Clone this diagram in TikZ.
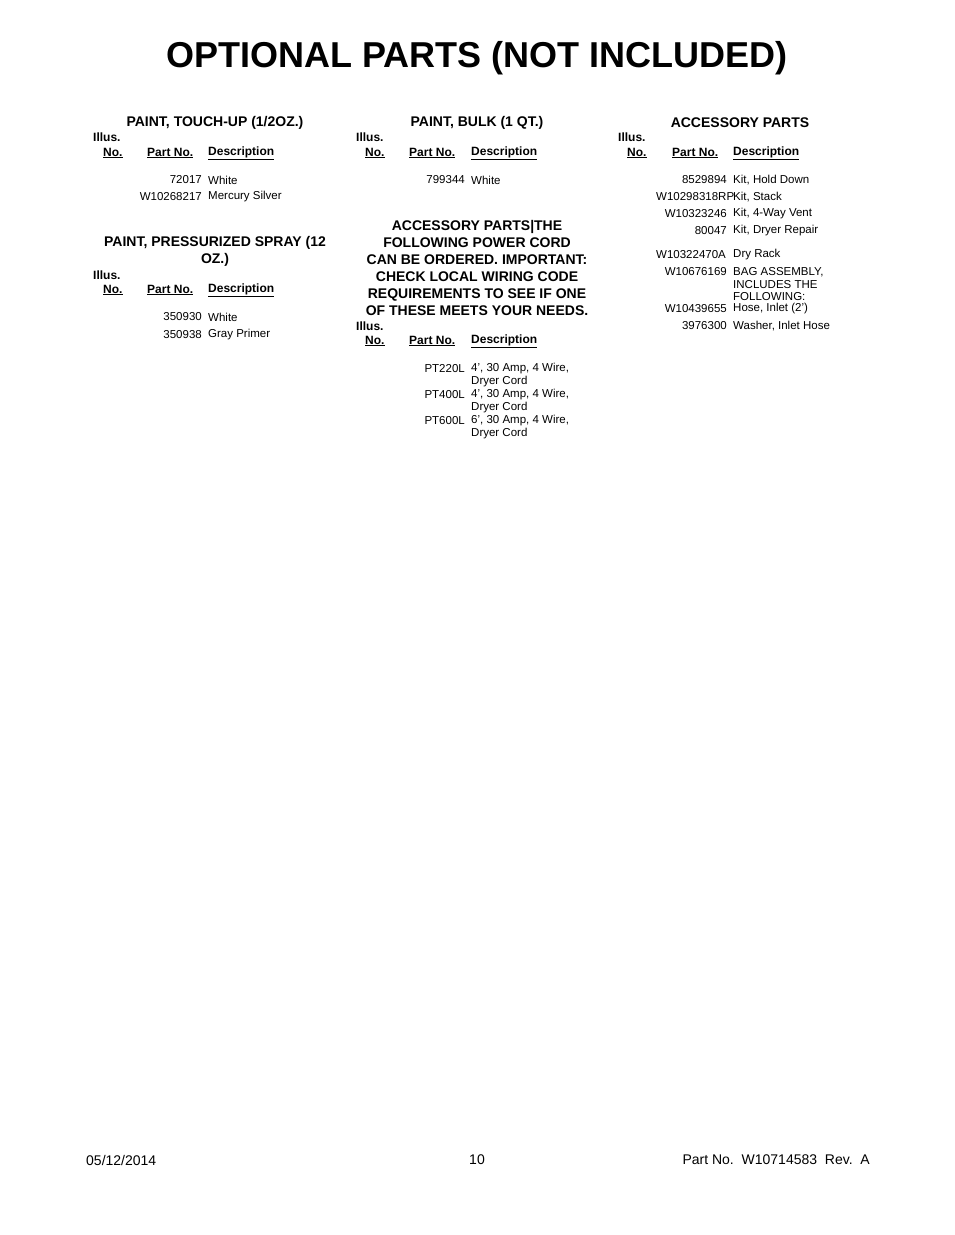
\documentclass[tikz,border=0pt]{standalone}
\usepackage{fontspec}
\setmainfont{Liberation Sans}
\begin{document}
\begin{tikzpicture}[x=1pt,y=-1pt,
  t/.style={inner sep=0pt,font=\fontsize{11.5}{13}\selectfont},
  L/.style={t,anchor=west},R/.style={t,anchor=east},
  h/.style={inner sep=0pt,font=\fontsize{14}{17}\bfseries\selectfont,align=center},
  hb/.style={inner sep=0pt,font=\fontsize{12}{13}\bfseries\selectfont,anchor=west}]
\useasboundingbox (0,0) rectangle (954,1235);
\node[inner sep=0pt,font=\fontsize{36}{40}\bfseries\selectfont] (title) at (477,58) {OPTIONAL PARTS (NOT INCLUDED)};
% column 1
\node[h] (h1) at (215,123) {PAINT, TOUCH-UP (1/2OZ.)};
\node[hb] (i1) at (93,137) {Illus.};
\node[hb] (n1) at (103,153) {\underline{No.}};
\node[hb] (p1) at (147,153) {\underline{Part No.}};
\node[hb] (d1) at (208,153) {\underline{Description}};
\node[R] (a1) at (202,180) {72017}; \node[L] (a1d) at (208,180) {White};
\node[R] (a2) at (202,197) {W10268217}; \node[L] (a2d) at (208,197) {Mercury Silver};
\node[h] (h2) at (215,251) {PAINT, PRESSURIZED SPRAY (12\\OZ.)};
\node[hb] (i2) at (93,275) {Illus.};
\node[hb] (n2) at (103,290) {\underline{No.}};
\node[hb] (p2) at (147,290) {\underline{Part No.}};
\node[hb] (d2) at (208,290) {\underline{Description}};
\node[R] (b1) at (202,317) {350930}; \node[L] (b1d) at (208,317) {White};
\node[R] (b2) at (202,335) {350938}; \node[L] (b2d) at (208,335) {Gray Primer};
% column 2
\node[h] (h3) at (477,123) {PAINT, BULK (1 QT.)};
\node[hb] (i3) at (356,137) {Illus.};
\node[hb] (n3) at (365,153) {\underline{No.}};
\node[hb] (p3) at (409,153) {\underline{Part No.}};
\node[hb] (d3) at (471,153) {\underline{Description}};
\node[R] (c1) at (465,180) {799344}; \node[L] (c1d) at (471,180) {White};
\node[h,font=\fontsize{14}{17}\bfseries\selectfont] (h4) at (477,267.5) {ACCESSORY PARTS|THE\\FOLLOWING POWER CORD\\CAN BE ORDERED. IMPORTANT:\\CHECK LOCAL WIRING CODE\\REQUIREMENTS TO SEE IF ONE\\OF THESE MEETS YOUR NEEDS.};
\node[hb] (i4) at (356,326) {Illus.};
\node[hb] (n4) at (365,341) {\underline{No.}};
\node[hb] (p4) at (409,341) {\underline{Part No.}};
\node[hb] (d4) at (471,341) {\underline{Description}};
\node[R] (e1) at (465,369) {PT220L}; \node[L] (e1d) at (471,369) {4', 30 Amp, 4 Wire,}; \node[L] (e1e) at (471,382) {Dryer Cord};
\node[R] (e2) at (465,395) {PT400L}; \node[L] (e2d) at (471,395) {4', 30 Amp, 4 Wire,}; \node[L] (e2e) at (471,408) {Dryer Cord};
\node[R] (e3) at (465,421) {PT600L}; \node[L] (e3d) at (471,421) {6', 30 Amp, 4 Wire,}; \node[L] (e3e) at (471,434) {Dryer Cord};
% column 3
\node[h] (h5) at (740,123) {ACCESSORY PARTS};
\node[hb] (i5) at (618,137) {Illus.};
\node[hb] (n5) at (627,153) {\underline{No.}};
\node[hb] (p5) at (672,153) {\underline{Part No.}};
\node[hb] (d5) at (733,153) {\underline{Description}};
\node[R] (f1) at (727,180) {8529894}; \node[L] (f1d) at (733,180) {Kit, Hold Down};
\node[L] (f2) at (656,197) {W10298318RP}; \node[L] (f2d) at (733,197) {Kit, Stack};
\node[R] (f3) at (727,214) {W10323246}; \node[L] (f3d) at (733,214) {Kit, 4-Way Vent};
\node[R] (f4) at (727,231) {80047}; \node[L] (f4d) at (733,231) {Kit, Dryer Repair};
\node[L] (f5) at (656,255) {W10322470A}; \node[L] (f5d) at (733,255) {Dry Rack};
\node[R] (f6) at (727,272) {W10676169}; \node[L] (f6d) at (733,272) {BAG ASSEMBLY,};
\node[L] (f6e) at (733,285) {INCLUDES THE}; \node[L] (f6f) at (733,297) {FOLLOWING:};
\node[R] (f7) at (727,309) {W10439655}; \node[L] (f7d) at (733,309) {Hose, Inlet (2')};
\node[R] (f8) at (727,326) {3976300}; \node[L] (f8d) at (733,326) {Washer, Inlet Hose};
% footer
\node[inner sep=0pt,anchor=west,font=\fontsize{14}{16}\selectfont] (fa) at (86,1160) {05/12/2014};
\node[inner sep=0pt,font=\fontsize{14}{16}\selectfont] (fb) at (477,1160) {10};
\node[inner sep=0pt,anchor=east,font=\fontsize{14}{16}\selectfont] (fc) at (870,1160) {Part No.\ \ W10714583\ \ Rev.\ \ A};
\end{tikzpicture}
\end{document}
